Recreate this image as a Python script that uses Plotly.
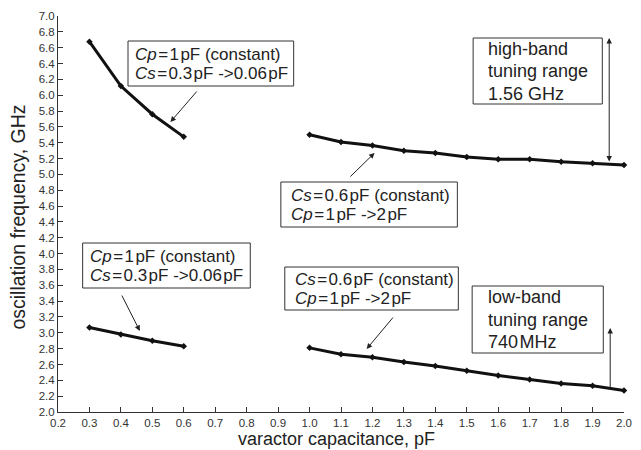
import plotly.graph_objects as go

# data
cs_sweep_x = [0.3, 0.4, 0.5, 0.6]
high_cs_y = [6.675, 6.115, 5.76, 5.474]
low_cs_y = [3.067, 2.98, 2.90, 2.83]

cp_sweep_x = [1.0, 1.1, 1.2, 1.3, 1.4, 1.5, 1.6, 1.7, 1.8, 1.9, 2.0]
high_cp_y = [5.50, 5.41, 5.365, 5.30, 5.27, 5.22, 5.19, 5.19, 5.16, 5.14, 5.12]
low_cp_y = [2.81, 2.73, 2.69, 2.63, 2.58, 2.52, 2.46, 2.41, 2.36, 2.33, 2.27]

x_ticks = [round(0.2 + 0.1 * i, 1) for i in range(19)]
y_ticks = [round(2.0 + 0.2 * i, 1) for i in range(26)]

x_title = "varactor capacitance, pF"
y_title = "oscillation frequency, GHz"

FONT = "Liberation Sans, Arial, Helvetica, sans-serif"
W, H = 641, 450
ML, MR, MT, MB = 58, 9, 16, 38
XR, YR = (0.2, 2.0), (2.0, 7.0)
PW, PH = W - ML - MR, H - MT - MB

# pixel -> data / paper helpers for annotation placement
def X(px):
    return XR[0] + (px - ML) / PW * (XR[1] - XR[0])

def Y(py):
    return YR[1] - (py - MT) / PH * (YR[1] - YR[0])

def PX(px):
    return (px - ML) / PW

def PY(py):
    return (H - MB - py) / PH

fig = go.Figure()
for xs, ys in [(cs_sweep_x, high_cs_y), (cs_sweep_x, low_cs_y),
               (cp_sweep_x, high_cp_y), (cp_sweep_x, low_cp_y)]:
    fig.add_trace(go.Scatter(x=xs, y=ys, mode="lines+markers",
                             line=dict(color="#111", width=3),
                             marker=dict(color="#111", size=5, symbol="diamond"),
                             cliponaxis=False, showlegend=False, hoverinfo="skip"))

HS = "\u200a"

def box(x0, y0, x1, y1, tx, lines, fs, spacing):
    fig.add_shape(type="rect", xref="x", yref="y", x0=X(x0), x1=X(x1), y0=Y(y0), y1=Y(y1),
                  line=dict(color="#333", width=1), fillcolor="white", layer="above")
    yc = (y0 + y1) / 2
    n = len(lines)
    for i, t in enumerate(lines):
        py = yc + (i - (n - 1) / 2) * spacing
        fig.add_annotation(x=X(tx), y=Y(py), xref="x", yref="y", text=t, showarrow=False,
                           xanchor="left", yanchor="middle",
                           font=dict(family=FONT, size=fs, color="#222"))

def arrow(x0, y0, x1, y1, side="end"):
    fig.add_annotation(x=X(x1), y=Y(y1), ax=X(x0), ay=Y(y0), xref="x", yref="y",
                       axref="x", ayref="y", text="", showarrow=True, arrowhead=2,
                       arrowsize=1.1, arrowwidth=1, arrowcolor="#222", arrowside=side)

cp_cs = [f"<i>Cp</i>{HS}={HS}1{HS}pF (constant)", f"<i>Cs</i>{HS}={HS}0.3{HS}pF -&gt;0.06{HS}pF"]
cs_cp = [f"<i>Cs</i>{HS}={HS}0.6{HS}pF (constant)", f"<i>Cp</i>{HS}={HS}1{HS}pF -&gt;2{HS}pF"]

box(129, 41, 297, 86, 134, cp_cs, 17, 19)
arrow(200, 90, 172, 122)
box(83, 243, 253, 288, 88, cp_cs, 17, 19)
arrow(122, 294, 141, 331)
box(284, 182, 463, 227, 292, cs_cp, 17, 19)
arrow(353, 178, 379, 153)
box(288, 267, 464, 310, 296, cs_cp, 17, 19)
arrow(399, 316, 371, 349)

box(479, 38, 610, 104, 492, ["high-band", "tuning range", "1.56 GHz"], 18, 22.5)
arrow(617, 163, 617, 38, side="end+start")
box(478, 286, 611, 353, 492, ["low-band", "tuning range", f"740{HS}MHz"], 18, 22.5)
arrow(618, 390, 618, 328)

# axis titles
fig.add_annotation(x=PX(340), xref="paper", y=PY(439), yref="paper",
                   text=x_title, showarrow=False, xanchor="center", yanchor="middle",
                   font=dict(family=FONT, size=18, color="#222"))
fig.add_annotation(x=PX(17), xref="paper", y=PY(217), yref="paper",
                   text=y_title, showarrow=False, textangle=-90, xanchor="center", yanchor="middle",
                   font=dict(family=FONT, size=19.5, color="#222"))

axis_common = dict(showline=True, linecolor="#333", linewidth=1, ticks="inside",
                   ticklen=5, tickcolor="#333", showgrid=False, zeroline=False,
                   tickfont=dict(family=FONT, size=11.5, color="#333"))

fig.update_xaxes(range=list(XR), tickvals=x_ticks, ticktext=[f"{v:.1f}" for v in x_ticks],
                 ticklabelstandoff=0, **axis_common)
fig.update_yaxes(range=list(YR), tickvals=y_ticks, ticktext=[f"{v:.1f}" for v in y_ticks],
                 **axis_common)

fig.update_layout(width=W, height=H, margin=dict(l=ML, r=MR, t=MT, b=MB),
                  plot_bgcolor="white", paper_bgcolor="white", hovermode=False)

fig.write_html("out.html", config={"displayModeBar": False},
               post_script="document.body.style.margin='0';document.body.style.overflow='hidden';")
